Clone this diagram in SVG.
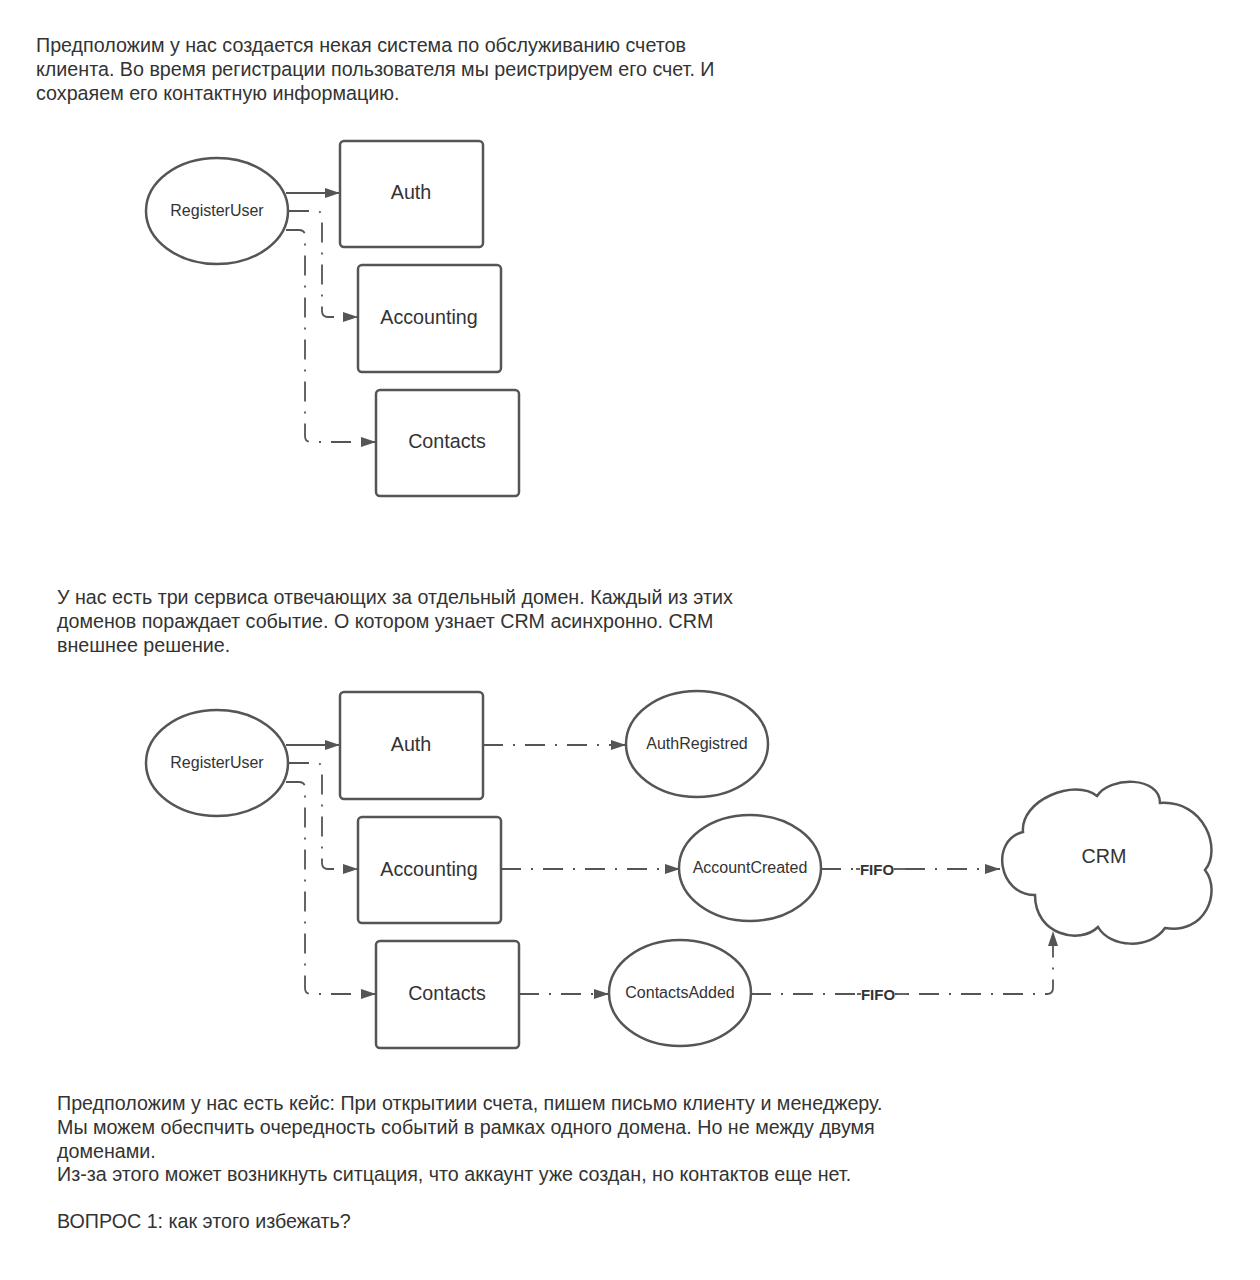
<svg xmlns="http://www.w3.org/2000/svg" width="1260" height="1280" viewBox="0 0 1260 1280">
<style>
.p{font-family:"Liberation Sans",Arial,sans-serif;font-size:19.7px;fill:#333}
.lbl{font-family:"Liberation Sans",Arial,sans-serif;fill:#333;text-anchor:middle;dominant-baseline:central}
.big{font-size:19.7px}
.sm{font-size:16px}
.shape{fill:#fff;stroke:#555;stroke-width:2.5}
.ln{fill:none;stroke:#555;stroke-width:1.8}
.dd{stroke-dasharray:20 10 2 10}
.fifo{font-family:"Liberation Sans",Arial,sans-serif;font-size:15px;font-weight:bold;fill:#333;text-anchor:middle;dominant-baseline:central}
</style>
<defs>
<marker id="arr" viewBox="0 0 15 10" refX="15" refY="5" markerWidth="15" markerHeight="10" markerUnits="userSpaceOnUse" orient="auto">
<path d="M0,0 L15,5 L0,10 Z" fill="#555"/>
</marker>
</defs>
<rect width="1260" height="1280" fill="#fff"/>
<g id="text1">
<text class="p" x="36" y="52">Предположим у нас создается некая система по обслуживанию счетов</text>
<text class="p" x="36" y="76">клиента. Во время регистрации пользователя мы реистрируем его счет. И</text>
<text class="p" x="36" y="100">сохраяем его контактную информацию.</text>
</g>
<g id="text2">
<text class="p" x="57" y="604">У нас есть три сервиса отвечающих за отдельный домен. Каждый из этих</text>
<text class="p" x="57" y="628">доменов пораждает событие. О котором узнает CRM асинхронно. CRM</text>
<text class="p" x="57" y="652">внешнее решение.</text>
</g>
<g id="text3">
<text class="p" x="57" y="1110">Предположим у нас есть кейс: При открытиии счета, пишем письмо клиенту и менеджеру.</text>
<text class="p" x="57" y="1134">Мы можем обеспчить очередность событий в рамках одного домена. Но не между двумя</text>
<text class="p" x="57" y="1158">доменами.</text>
<text class="p" x="57" y="1181">Из-за этого может возникнуть ситцация, что аккаунт уже создан, но контактов еще нет.</text>
<text class="p" x="57" y="1228">ВОПРОС 1: как этого избежать?</text>
</g>
<g id="connectors">
<path class="ln" d="M286,193 H340" marker-end="url(#arr)"/>
<path class="ln dd" d="M289,211 H316 Q322,211 322,217 V311 Q322,317 328,317 H358" marker-end="url(#arr)"/>
<path class="ln dd" d="M286,230 H299 Q305,230 305,236 V436 Q305,442 311,442 H376" marker-end="url(#arr)"/>
<path class="ln" d="M286,745 H340" marker-end="url(#arr)"/>
<path class="ln dd" d="M289,763 H316 Q322,763 322,769 V863 Q322,869 328,869 H358" marker-end="url(#arr)"/>
<path class="ln dd" d="M286,782 H299 Q305,782 305,788 V988 Q305,994 311,994 H376" marker-end="url(#arr)"/>
<path class="ln dd" d="M483,745 H626" marker-end="url(#arr)"/>
<path class="ln dd" d="M501,869 H680" marker-end="url(#arr)"/>
<path class="ln dd" d="M519,994 H609" marker-end="url(#arr)"/>
<path class="ln dd" d="M821,869 H1000" marker-end="url(#arr)"/>
<path class="ln dd" d="M751,994 H1047 Q1053,994 1053,988 V931" marker-end="url(#arr)"/>
<line class="ln" x1="856" y1="869" x2="860" y2="869"/>
<line class="ln" x1="894" y1="869" x2="910" y2="869"/>
<rect x="860" y="861" width="34" height="16" fill="#fff"/>
<text class="fifo" x="877" y="869">FIFO</text>
<line class="ln" x1="857" y1="994" x2="861" y2="994"/>
<line class="ln" x1="895" y1="994" x2="908" y2="994"/>
<rect x="861" y="986" width="34" height="16" fill="#fff"/>
<text class="fifo" x="878" y="994">FIFO</text>
</g>
<g id="registeruser1">
<ellipse class="shape" cx="217" cy="211" rx="71" ry="53"/>
<text class="lbl sm" x="217" y="210">RegisterUser</text>
</g>
<g id="auth1">
<rect class="shape" x="340" y="141" width="143" height="106" rx="4"/>
<text class="lbl big" x="411" y="192">Auth</text>
</g>
<g id="accounting1">
<rect class="shape" x="358" y="265" width="143" height="107" rx="4"/>
<text class="lbl big" x="429" y="317">Accounting</text>
</g>
<g id="contacts1">
<rect class="shape" x="376" y="390" width="143" height="106" rx="4"/>
<text class="lbl big" x="447" y="441">Contacts</text>
</g>
<g id="registeruser2">
<ellipse class="shape" cx="217" cy="763" rx="71" ry="53"/>
<text class="lbl sm" x="217" y="762">RegisterUser</text>
</g>
<g id="auth2">
<rect class="shape" x="340" y="692" width="143" height="107" rx="4"/>
<text class="lbl big" x="411" y="744">Auth</text>
</g>
<g id="accounting2">
<rect class="shape" x="358" y="817" width="143" height="106" rx="4"/>
<text class="lbl big" x="429" y="869">Accounting</text>
</g>
<g id="contacts2">
<rect class="shape" x="376" y="941" width="143" height="107" rx="4"/>
<text class="lbl big" x="447" y="993">Contacts</text>
</g>
<g id="authregistred">
<ellipse class="shape" cx="697" cy="744" rx="71" ry="53"/>
<text class="lbl sm" x="697" y="743">AuthRegistred</text>
</g>
<g id="accountcreated">
<ellipse class="shape" cx="750" cy="868" rx="71" ry="53"/>
<text class="lbl sm" x="750" y="867">AccountCreated</text>
</g>
<g id="contactsadded">
<ellipse class="shape" cx="680" cy="993" rx="71" ry="53"/>
<text class="lbl sm" x="680" y="992">ContactsAdded</text>
</g>
<g id="crm">
<path class="shape" d="M1023,832 C1020,800 1075,778 1097,796 C1110,776 1160,776 1160,803 C1205,800 1222,850 1205,870 C1222,892 1205,935 1165,928 C1150,950 1110,948 1098,927 C1080,945 1035,935 1035,895 C998,895 990,840 1023,832 Z"/>
<text class="lbl big" x="1104" y="856">CRM</text>
</g>
</svg>
